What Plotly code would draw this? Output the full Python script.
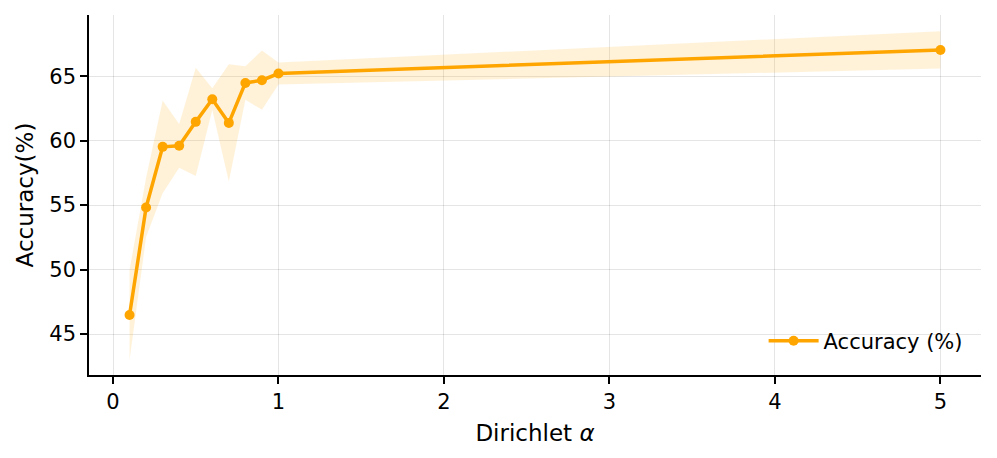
import plotly.graph_objects as go

# Dirichlet alpha vs. accuracy (mean and std over runs)
alpha = [0.1, 0.2, 0.3, 0.4, 0.5, 0.6, 0.7, 0.8, 0.9, 1.0, 5.0]
acc_mean = [46.47, 54.82, 59.52, 59.60, 61.46, 63.22, 61.38, 64.48, 64.69, 65.21, 67.04]
acc_std = [3.5, 2.3, 3.6, 1.7, 4.2, 0.85, 4.55, 1.3, 2.3, 0.85, 1.45]

upper = [m + s for m, s in zip(acc_mean, acc_std)]
lower = [m - s for m, s in zip(acc_mean, acc_std)]

ORANGE = "#FFA500"
FONT = "DejaVu Sans, Liberation Sans, sans-serif"

fig = go.Figure()
fig.add_trace(go.Scatter(
    x=alpha + alpha[::-1], y=upper + lower[::-1],
    fill="toself", fillcolor="rgba(255,165,0,0.15)",
    line=dict(width=0), hoverinfo="skip", showlegend=False,
))
fig.add_trace(go.Scatter(
    x=alpha, y=acc_mean, mode="lines+markers", name="Accuracy (%)",
    line=dict(color=ORANGE, width=3.5), marker=dict(color=ORANGE, size=10),
))

axis_common = dict(
    showline=True, linecolor="black", linewidth=1.5, mirror=False,
    ticks="outside", ticklen=7, tickwidth=1.5, tickcolor="black",
    showgrid=True, gridcolor="rgba(0,0,0,0.1)", gridwidth=1.2,
    zeroline=False, tickfont=dict(size=21, color="black"),
)

# page body has an 8px margin, so the figure is sized to fit the window
fig.update_layout(
    width=981, height=442,
    margin=dict(l=81, r=8, t=7, b=75),
    plot_bgcolor="white", paper_bgcolor="white",
    font=dict(family=FONT, size=19, color="black"),
    xaxis=dict(range=[-0.145, 5.245], tickvals=[0, 1, 2, 3, 4, 5],
               title=dict(text="Dirichlet <i>α</i>", standoff=12), **axis_common),
    yaxis=dict(range=[41.82, 69.75], tickvals=[45, 50, 55, 60, 65],
               title=dict(text="Accuracy(%)", standoff=9), **axis_common),
    legend=dict(x=0.985, y=0.037, xanchor="right", yanchor="bottom",
                itemwidth=50, bgcolor="rgba(255,255,255,0)", font=dict(size=21)),
    showlegend=True,
)

fig.write_html("out.html")
